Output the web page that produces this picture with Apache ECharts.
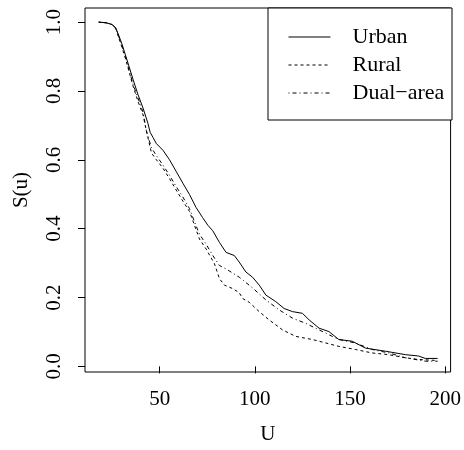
<!DOCTYPE html>
<html>
<head>
<meta charset="utf-8">
<script src="https://cdn.jsdelivr.net/npm/echarts@6/dist/echarts.min.js"></script>
<style>
  html, body { margin: 0; padding: 0; background: #fff; }
  #main { width: 464px; height: 450px; }
</style>
</head>
<body>
<div id="main"></div>
<script>
// survival curves (U, S(u))
var urbanU = [18, 22, 25, 27, 30, 32, 34, 36, 38.6, 41.3, 43.9, 45, 46.5, 48.3, 51.7, 55.2, 58.7, 62.2, 65.7, 69.2, 72.6, 75.3, 77.9, 81.4, 84.9, 89.2, 91.8, 95.3, 98.8, 102.3, 105.8, 111, 115.4, 119.8, 125, 128.5, 133.7, 138.9, 144.1, 151.1, 158.1, 168.6, 179, 186, 189.5, 196]
var urbanS = [1.0, 0.998, 0.993, 0.983, 0.94, 0.905, 0.87, 0.834, 0.79, 0.75, 0.705, 0.68, 0.665, 0.647, 0.628, 0.6, 0.566, 0.532, 0.499, 0.461, 0.432, 0.41, 0.394, 0.36, 0.331, 0.322, 0.303, 0.274, 0.259, 0.236, 0.207, 0.188, 0.168, 0.159, 0.154, 0.135, 0.111, 0.101, 0.078, 0.073, 0.053, 0.044, 0.034, 0.03, 0.023, 0.023]

var ruralU = [18, 22, 25, 27, 30, 32, 34, 36, 38.6, 41.3, 43, 45.7, 48.3, 51.7, 55.2, 58.7, 62.2, 65.7, 68.3, 70.9, 74.4, 78.8, 81.4, 84, 88.3, 91.8, 93.6, 97.1, 102.3, 107.5, 114.5, 121.5, 130.2, 137.2, 144.1, 152.8, 161.5, 170.3, 179, 186, 196]
var ruralS = [1.0, 0.998, 0.993, 0.98, 0.93, 0.895, 0.855, 0.815, 0.77, 0.73, 0.685, 0.62, 0.6, 0.576, 0.545, 0.512, 0.48, 0.45, 0.41, 0.37, 0.341, 0.298, 0.255, 0.236, 0.226, 0.214, 0.197, 0.186, 0.159, 0.135, 0.106, 0.087, 0.078, 0.068, 0.058, 0.049, 0.039, 0.034, 0.025, 0.02, 0.017]

var dualU = [18, 22, 25, 27, 30, 32, 34, 36, 38.6, 41.3, 43, 45.7, 48.3, 51.7, 55.2, 58.7, 62.2, 65.7, 68.3, 70.9, 74.4, 77.9, 81.4, 84.9, 91.8, 98.8, 105.8, 112.8, 119.8, 126.7, 133.7, 140.7, 144.1, 152.8, 161.5, 170.3, 179, 189.5, 196]
var dualS = [1.0, 0.998, 0.993, 0.982, 0.935, 0.9, 0.86, 0.82, 0.78, 0.738, 0.685, 0.635, 0.612, 0.585, 0.555, 0.522, 0.492, 0.458, 0.42, 0.384, 0.355, 0.322, 0.293, 0.283, 0.259, 0.228, 0.193, 0.164, 0.14, 0.125, 0.106, 0.087, 0.078, 0.068, 0.049, 0.039, 0.025, 0.015, 0.015]

var xTicks = [50, 100, 150, 200]
var yTicks = [0, 0.2, 0.4, 0.6, 0.8, 1.0]
var seriesNames = ["Urban", "Rural", "Dual\u2212area"]

function pairs(xs, ys) {
  return xs.map(function (x, i) { return [x, ys[i]] })
}

var font = "Liberation Serif"
var chart = echarts.init(document.getElementById("main"))

var option = {
  animation: false,
  backgroundColor: "#fff",
  textStyle: { fontFamily: font, color: "#000" },
  grid: {
    left: 85, right: 12, top: 8, bottom: 74,
    show: true, borderColor: "#000", borderWidth: 1
  },
  graphic: [
    {
      type: "rect",
      shape: { x: 268, y: 8, width: 184, height: 112 },
      style: { fill: "#fff", stroke: "#000", lineWidth: 1 },
      z: 10
    }
  ],
  legend: {
    orient: "vertical",
    left: 283, top: 21,
    itemWidth: 42, itemHeight: 14, itemGap: 6,
    z: 20,
    itemStyle: { opacity: 0 },
    lineStyle: { width: 1 },
    textStyle: { fontFamily: font, fontSize: 22, color: "#000", padding: [0, 0, 0, 17] },
    data: seriesNames
  },
  xAxis: {
    type: "value",
    min: 10.8, max: 202.8,
    name: "U", nameLocation: "middle", nameGap: 52,
    nameTextStyle: { fontFamily: font, fontSize: 21, color: "#000" },
    axisLine: { show: false },
    axisTick: { show: true, length: 7, lineStyle: { color: "#000" }, customValues: xTicks },
    axisLabel: { fontFamily: font, fontSize: 21, color: "#000", margin: 17, customValues: xTicks },
    splitLine: { show: false }
  },
  yAxis: {
    type: "value",
    min: -0.0164, max: 1.041,
    name: "S(u)", nameLocation: "middle", nameGap: 53,
    nameTextStyle: { fontFamily: font, fontSize: 21, color: "#000" },
    axisLine: { show: false },
    axisTick: { show: true, length: 7, lineStyle: { color: "#000" }, customValues: yTicks },
    axisLabel: {
      fontFamily: font, fontSize: 21, color: "#000", margin: 20, rotate: 90,
      customValues: yTicks,
      formatter: function (v) { return v.toFixed(1) }
    },
    splitLine: { show: false }
  },
  series: [
    {
      name: seriesNames[0], type: "line", symbol: "none",
      data: pairs(urbanU, urbanS),
      itemStyle: { color: "#000" },
      lineStyle: { color: "#000", width: 1, type: "solid" }
    },
    {
      name: seriesNames[1], type: "line", symbol: "none",
      data: pairs(ruralU, ruralS),
      itemStyle: { color: "#000" },
      lineStyle: { color: "#000", width: 1, type: [3, 3] }
    },
    {
      name: seriesNames[2], type: "line", symbol: "none",
      data: pairs(dualU, dualS),
      itemStyle: { color: "#000" },
      lineStyle: { color: "#000", width: 1, type: [1, 3, 4, 3] }
    }
  ]
}
chart.setOption(option)
</script>
</body>
</html>
